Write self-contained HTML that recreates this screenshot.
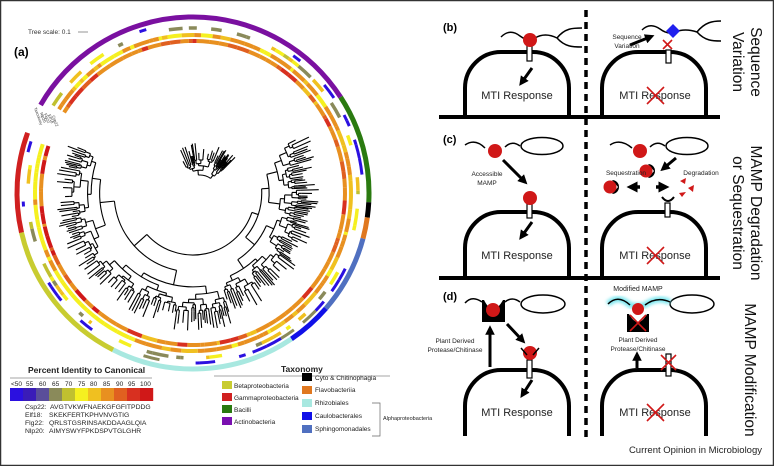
<!DOCTYPE html>
<html><head><meta charset="utf-8">
<style>
html,body{margin:0;padding:0;background:#fff;}
#wrap{position:relative;width:774px;height:466px;overflow:hidden;font-family:"Liberation Sans",sans-serif;}
svg{position:absolute;left:0;top:0;}
</style></head>
<body><div id="wrap">
<svg id="s" width="774" height="466" viewBox="0 0 774 466" xmlns="http://www.w3.org/2000/svg" font-family="Liberation Sans, sans-serif">
<defs>
<marker id="ah" viewBox="0 0 10 10" refX="5" refY="5" markerWidth="3.2" markerHeight="3.2" orient="auto"><path d="M0,0 L10,5 L0,10 z" fill="#000"/></marker>
<filter id="glow" x="-20%" y="-50%" width="140%" height="200%"><feGaussianBlur stdDeviation="1.5"/></filter>
</defs>
<rect x="0.5" y="0.5" width="773" height="465" fill="#fff" stroke="#333" stroke-width="1.5"/>
<g id="circ"></g>
<g id="tree" stroke="#000" stroke-width="1.1" fill="none"></g>

<text x="28" y="34" font-size="6.5" fill="#333">Tree scale: 0.1</text>
<line x1="78" y1="32" x2="88" y2="32" stroke="#666" stroke-width="0.7"/>
<text x="14" y="56" font-size="12" font-weight="bold">(a)</text>
<g font-size="4" fill="#333">
<text transform="translate(34,108) rotate(70)">Taxonomy</text>
<text transform="translate(40,113) rotate(70)">Nlp20</text>
<text transform="translate(44,114) rotate(70)">Flg22</text>
<text transform="translate(48,115) rotate(70)">Elf18</text>
<text transform="translate(52,116) rotate(70)">Csp22</text>
</g>

<!-- Legend -->
<text x="28" y="373" font-size="8.5" font-weight="bold" fill="#222">Percent Identity to Canonical</text>
<line x1="10" y1="378" x2="152" y2="378" stroke="#888" stroke-width="0.8"/>
<g font-size="6.5" fill="#222">
<text x="11" y="386">&lt;50</text><text x="26" y="386">55</text><text x="39" y="386">60</text><text x="52" y="386">65</text><text x="65" y="386">70</text><text x="78" y="386">75</text><text x="90" y="386">80</text><text x="103" y="386">85</text><text x="116" y="386">90</text><text x="128" y="386">95</text><text x="140" y="386">100</text>
</g>
<g id="cbar"></g>
<g font-size="6.8" fill="#222">
<text x="25" y="409">Csp22:</text><text x="50" y="409">AVGTVKWFNAEKGFGFITPDDG</text>
<text x="25" y="417">Elf18:</text><text x="49" y="417">SKEKFERTKPHVNVGTIG</text>
<text x="25" y="425">Flg22:</text><text x="49" y="425">QRLSTGSRINSAKDDAAGLQIA</text>
<text x="25" y="433">Nlp20:</text><text x="49" y="433">AIMYSWYFPKDSPVTGLGHR</text>
</g>
<text x="281" y="372" font-size="8.5" font-weight="bold" fill="#222">Taxonomy</text>
<line x1="214" y1="376" x2="390" y2="376" stroke="#888" stroke-width="0.8"/>
<g font-size="6.5" fill="#222">
<rect x="222" y="381" width="10" height="8" fill="#c8cc30"/><text x="234" y="388">Betaproteobacteria</text>
<rect x="222" y="393" width="10" height="8" fill="#d02020"/><text x="234" y="400">Gammaproteobacteria</text>
<rect x="222" y="405" width="10" height="8" fill="#2a7a10"/><text x="234" y="412">Bacilli</text>
<rect x="222" y="417" width="10" height="8" fill="#7a10b0"/><text x="234" y="424">Actinobacteria</text>
<rect x="302" y="373" width="10" height="8" fill="#000"/><text x="315" y="380">Cyto &amp; Chitinophagia</text>
<rect x="302" y="386" width="10" height="8" fill="#e07820"/><text x="315" y="392">Flavobacteriia</text>
<rect x="302" y="399" width="10" height="8" fill="#a8e8e0"/><text x="315" y="405">Rhizobiales</text>
<rect x="302" y="412" width="10" height="8" fill="#1010e8"/><text x="315" y="418">Caulobacterales</text>
<rect x="302" y="425" width="10" height="8" fill="#5070c0"/><text x="315" y="431">Sphingomonadales</text>
<path d="M372,403 H380 V436 H372" stroke="#666" stroke-width="0.7" fill="none"/>
<text x="383" y="420" font-size="5.5">Alphaproteobacteria</text>
</g>

<!-- dashed divider -->
<line x1="586" y1="10" x2="586" y2="440" stroke="#000" stroke-width="3.5" stroke-dasharray="7,5"/>

<!-- ground lines -->
<line x1="439" y1="117" x2="720" y2="117" stroke="#000" stroke-width="4"/>
<line x1="439" y1="278" x2="720" y2="278" stroke="#000" stroke-width="4"/>

<g stroke="#000" stroke-width="4" fill="none">
<path d="M465,117 V88 A36,36 0 0 1 501,52 H533 A36,36 0 0 1 569,88 V117"/>
<path d="M602,117 V88 A36,36 0 0 1 638,52 H670 A36,36 0 0 1 706,88 V117"/>
<path d="M465,278 V248 A36,36 0 0 1 501,212 H533 A36,36 0 0 1 569,248 V278"/>
<path d="M602,278 V248 A36,36 0 0 1 638,212 H670 A36,36 0 0 1 706,248 V278"/>
<path d="M465,436 V406 A36,36 0 0 1 501,370 H533 A36,36 0 0 1 569,406 V436"/>
<path d="M602,436 V406 A36,36 0 0 1 638,370 H670 A36,36 0 0 1 706,406 V436"/>
</g>

<text x="443" y="31" font-size="11" font-weight="bold">(b)</text>
<text x="443" y="143" font-size="11" font-weight="bold">(c)</text>
<text x="443" y="300" font-size="11" font-weight="bold">(d)</text>

<g font-size="11" fill="#222" text-anchor="middle">
<text x="517" y="99">MTI Response</text><text x="655" y="99">MTI Response</text>
<text x="517" y="259">MTI Response</text><text x="655" y="259">MTI Response</text>
<text x="517" y="416">MTI Response</text><text x="655" y="416">MTI Response</text>
</g>

<!-- receptors -->
<g fill="#fff" stroke="#000" stroke-width="1.2">
<rect x="527" y="45" width="5" height="16"/><rect x="666" y="50" width="5" height="13"/>
<rect x="527" y="204" width="5" height="14"/><rect x="665" y="203" width="5" height="14"/>
<rect x="527" y="360" width="5" height="18"/><rect x="666" y="354" width="5" height="22"/>
</g>

<!-- (b) -->
<g stroke="#000" stroke-width="1.5" fill="none">
<path d="M501,37 Q510,28 520,36 Q528,42 535,38 Q545,32 557,38"/>
<path d="M557,38 C565,28 573,28 582,28 M557,38 C565,47 573,47 582,47"/>
<path d="M642,30 Q650,22 660,29 Q668,35 675,32 Q685,28 697,32"/>
<path d="M697,32 C705,22 713,21 721,21 M697,32 C705,41 713,41 721,41"/>
</g>
<circle cx="530" cy="40" r="7" fill="#d01818"/>
<path d="M673,24 L680,31 L673,38 L666,31 Z" fill="#2020ee"/>
<g stroke="#d01818" stroke-width="1.6"><line x1="663" y1="40" x2="672" y2="49"/><line x1="672" y1="40" x2="663" y2="49"/></g>
<line x1="532" y1="68" x2="522" y2="82" stroke="#000" stroke-width="3" marker-end="url(#ah)"/>
<line x1="630" y1="45" x2="650" y2="37" stroke="#000" stroke-width="3" marker-end="url(#ah)"/>
<text x="627" y="39" font-size="6.5" text-anchor="middle" fill="#222">Sequence</text>
<text x="627" y="48" font-size="6.5" text-anchor="middle" fill="#222">Variation</text>
<g stroke="#d01818" stroke-width="1.6"><line x1="647" y1="87" x2="664" y2="104"/><line x1="664" y1="87" x2="647" y2="104"/></g>

<!-- (c) -->
<g stroke="#000" stroke-width="1.5" fill="none">
<path d="M465,145 Q475,138 485,148 M505,147 Q512,140 520,146"/>
<ellipse cx="542" cy="146" rx="21" ry="8.5"/>
<path d="M610,145 Q620,138 632,148 M650,147 Q657,140 665,146"/>
<ellipse cx="687" cy="146" rx="21" ry="8.5"/>
</g>
<circle cx="495" cy="151" r="7" fill="#d01818"/>
<circle cx="640" cy="151" r="7" fill="#d01818"/>
<line x1="503" y1="160" x2="524" y2="181" stroke="#000" stroke-width="3" marker-end="url(#ah)"/>
<text x="487" y="176" font-size="6.5" text-anchor="middle" fill="#222">Accessible</text>
<text x="487" y="185" font-size="6.5" text-anchor="middle" fill="#222">MAMP</text>
<circle cx="530" cy="198" r="7" fill="#d01818"/>
<line x1="532" y1="222" x2="522" y2="236" stroke="#000" stroke-width="3" marker-end="url(#ah)"/>
<line x1="676" y1="158" x2="664" y2="168" stroke="#000" stroke-width="3" marker-end="url(#ah)"/>
<path d="M648,164 a7,7 0 0 1 0,14 l6,-7 z" fill="#000"/>
<circle cx="646" cy="171" r="6.5" fill="#d01818"/>
<text x="626" y="175" font-size="6.5" text-anchor="middle" fill="#222">Sequestration</text>
<text x="701" y="175" font-size="6.5" text-anchor="middle" fill="#222">Degradation</text>
<path d="M612,180 a7,7 0 0 1 0,14 l6,-7 z" fill="#000"/>
<circle cx="610" cy="187" r="6.5" fill="#d01818"/>
<line x1="640" y1="187" x2="632" y2="187" stroke="#000" stroke-width="3.5" marker-end="url(#ah)"/>
<line x1="656" y1="187" x2="664" y2="187" stroke="#000" stroke-width="3.5" marker-end="url(#ah)"/>
<g fill="#d01818"><path d="M680,181 l6,-3 l-1,6 z"/><path d="M688,188 l6,-3 l-1,7 z"/><path d="M679,193 l7,-1 l-4,5 z"/></g>
<path d="M662,197 Q668,205 674,197" stroke="#000" stroke-width="2" fill="none"/>
<g stroke="#d01818" stroke-width="1.6"><line x1="647" y1="247" x2="664" y2="264"/><line x1="664" y1="247" x2="647" y2="264"/></g>

<!-- (d) -->
<g stroke="#000" stroke-width="1.5" fill="none">
<path d="M465,303 Q472,295 482,302 M505,302 Q512,296 520,302"/>
<ellipse cx="543" cy="304" rx="22" ry="9"/>
<ellipse cx="692" cy="304" rx="22" ry="9"/>
</g>
<path d="M608,304 Q618,294 630,305 Q637,307 645,305 Q657,296 670,302" stroke="#7ee8f0" stroke-width="6" fill="none" filter="url(#glow)"/>
<path d="M608,304 Q618,294 630,305 M645,305 Q657,296 670,302" stroke="#000" stroke-width="1.5" fill="none"/>
<rect x="482" y="300" width="23" height="22" fill="#000"/>
<path d="M484,300 Q493,318 503,300 z" fill="#fff"/>
<circle cx="493" cy="310" r="7" fill="#d01818"/>
<text x="638" y="291" font-size="7" text-anchor="middle" fill="#222">Modified MAMP</text>
<rect x="627" y="314" width="22" height="18" fill="#000"/>
<path d="M629,314 Q638,330 647,314 z" fill="#fff"/>
<circle cx="638" cy="309" r="6" fill="#d01818"/>
<g stroke="#d01818" stroke-width="1.6"><line x1="630" y1="315" x2="646" y2="331"/><line x1="646" y1="315" x2="630" y2="331"/></g>
<text x="638" y="342" font-size="6.5" text-anchor="middle" fill="#222">Plant Derived</text>
<text x="638" y="351" font-size="6.5" text-anchor="middle" fill="#222">Protease/Chitinase</text>
<line x1="637" y1="368" x2="637" y2="356" stroke="#000" stroke-width="3" marker-end="url(#ah)"/>
<g stroke="#d01818" stroke-width="1.6"><line x1="661" y1="355" x2="676" y2="370"/><line x1="676" y1="355" x2="661" y2="370"/></g>
<line x1="490" y1="367" x2="490" y2="330" stroke="#000" stroke-width="3" marker-end="url(#ah)"/>
<text x="455" y="343" font-size="6.5" text-anchor="middle" fill="#222">Plant Derived</text>
<text x="455" y="352" font-size="6.5" text-anchor="middle" fill="#222">Protease/Chitinase</text>
<line x1="507" y1="324" x2="522" y2="340" stroke="#000" stroke-width="3" marker-end="url(#ah)"/>
<circle cx="530" cy="353" r="7" fill="#d01818"/>
<path d="M521,348 L527,355 M539,348 L533,355" stroke="#000" stroke-width="1.5"/>
<line x1="532" y1="380" x2="523" y2="394" stroke="#000" stroke-width="3" marker-end="url(#ah)"/>
<g stroke="#d01818" stroke-width="1.6"><line x1="647" y1="404" x2="664" y2="421"/><line x1="664" y1="404" x2="647" y2="421"/></g>

<!-- side labels -->
<g font-size="15.5" fill="#111" text-anchor="middle">
<text transform="translate(751,62) rotate(90)">Sequence</text>
<text transform="translate(733,62) rotate(90)">Variation</text>
<text transform="translate(751,213) rotate(90)">MAMP Degradation</text>
<text transform="translate(733,213) rotate(90)">or Sequestration</text>
<text transform="translate(745,370) rotate(90)">MAMP Modification</text>
</g>
<text x="762" y="453" font-size="9.5" text-anchor="end" fill="#222">Current Opinion in Microbiology</text>
</svg>
<script>
(function(){
var NS="http://www.w3.org/2000/svg";
var seed=777;function rnd(){seed=(seed*1103515245+12345)%2147483648;return seed/2147483648;}
var cx=193,cy=193;
function pt(r,a){var t=a*Math.PI/180;return [cx+r*Math.sin(t),cy-r*Math.cos(t)];}
function arc(g,r,a0,a1,w,col){var p0=pt(r,a0),p1=pt(r,a1);var large=(a1-a0)>180?1:0;
var e=document.createElementNS(NS,"path");e.setAttribute("d","M"+p0[0].toFixed(2)+","+p0[1].toFixed(2)+" A"+r+","+r+" 0 "+large+" 1 "+p1[0].toFixed(2)+","+p1[1].toFixed(2));
e.setAttribute("stroke",col);e.setAttribute("stroke-width",w);e.setAttribute("fill","none");g.appendChild(e);}
var circ=document.getElementById("circ");
var tax=[[-60,57,"#7a10a0"],[57,93,"#2a7a10"],[93,98,"#000"],[98,105,"#e07820"],[105,131,"#5070c0"],[131,146,"#1010e8"],[146,207,"#a8e8e0"],[207,257,"#c8cc30"],[257,290,"#d02020"]];
tax.forEach(function(t){arc(circ,176,t[0],t[1],5,t[2]);});
var C=["#2b10e0","#3a1cb8","#5a4e9a","#8a8a5a","#c0c030","#f5f020","#f0c020","#e89020","#e06020","#d83020","#d01818"];
function pick(a,ring){
 var r=rnd();
 if(ring==0){ if(a>200&&a<290) return r<.4?C[10]:r<.7?C[8]:C[7]; return r<.5?C[7]:r<.75?C[8]:r<.9?C[9]:C[6];}
 if(ring==1){ if(a>200&&a<290) return r<.6?C[5]:r<.8?C[6]:C[7]; return r<.6?C[7]:r<.85?C[6]:C[5];}
 if(ring==2){ if(r<.5) return null; return r<.7?C[3]:r<.85?C[6]:r<.93?C[5]:C[4];}
 if(ring==3){ var p=(a>120&&a<240)?.5:.92; if(r<p) return null; return r<p+(1-p)*.8?C[0]:C[3];}
}
var rings=[[152,4],[158,4],[165,3.5],[170,3]];
rings.forEach(function(rr,i){var a=-58;while(a<288){var s=1+rnd()*5;var col=pick((a+360)%360,i);
 if(col) arc(circ,rr[0],a,Math.min(a+s,288),rr[1],col); a+=s;}});
var cb=document.getElementById("cbar");for(var k=0;k<11;k++){var e=document.createElementNS(NS,"rect");e.setAttribute("x",10+k*13);e.setAttribute("y",388);e.setAttribute("width",13.2);e.setAttribute("height",13);e.setAttribute("fill",C[k]);cb.appendChild(e);}
var tg=document.getElementById("tree");
function line(r0,r1,a){var p=pt(r0,a),q=pt(r1,a);var e=document.createElementNS(NS,"line");e.setAttribute("x1",p[0]);e.setAttribute("y1",p[1]);e.setAttribute("x2",q[0]);e.setAttribute("y2",q[1]);tg.appendChild(e);}
function build(a0,a1,r,d,rmax,step){
 if(d<=0||(a1-a0)<1.5){var m=(a0+a1)/2;line(r,Math.min(rmax,r+4+rnd()*14),m);return m;}
 var f=.25+rnd()*.5;var am=a0+(a1-a0)*f;
 var r1=r+step*(0.4+rnd()),r2=r+step*(0.4+rnd());
 var m1=build(a0,am,r1,d-1,rmax,step*0.8),m2=build(am,a1,r2,d-1,rmax,step*0.8);
 line(r,r1,m1);line(r,r2,m2);arc(tg,r,m1,m2,1.1,"#000");return (m1+m2)/2;}
build(62,292,62,8,146,14);
cx=200;cy=193;build(-30,45,18,5,50,6);
cx=193;cy=193;
})();
</script>
</div></body></html>
